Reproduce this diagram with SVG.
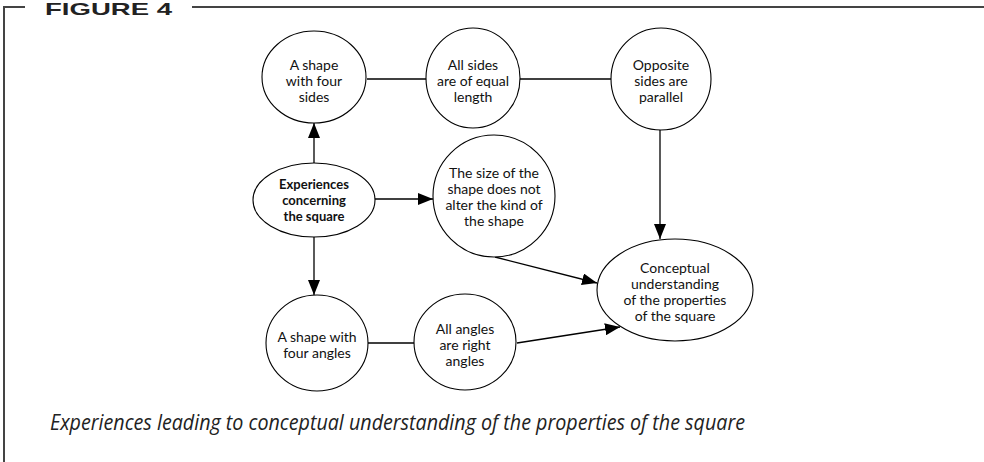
<svg xmlns="http://www.w3.org/2000/svg" width="984" height="462" viewBox="0 0 984 462">
<style>
.frame{stroke:#444;stroke-width:2;fill:none}
.node ellipse{fill:#fff;stroke:#000;stroke-width:1.1}
.node text{font-family:Lato,"Open Sans","Liberation Sans",sans-serif;font-size:14px;fill:#111;text-anchor:middle}
.node text.b{font-weight:bold;font-size:13px}
.conn line{stroke:#000;stroke-width:1.3}
.title{font-family:"Liberation Sans",sans-serif;font-weight:bold;font-size:17px;fill:#222}
.cap{font-family:"Open Sans","Liberation Sans",sans-serif;font-style:italic;font-size:22px;fill:#222}
</style>
<defs>
<marker id="ah" viewBox="0 0 15 12" refX="15" refY="6" markerWidth="15" markerHeight="12" markerUnits="userSpaceOnUse" orient="auto">
<path d="M0,0 L15,6 L0,12 Z" fill="#000"/>
</marker>
</defs>
<g id="frame">
<path class="frame" d="M4,462 V7 H25 M192,7 H984"/>
<text class="title" x="45" y="15" textLength="127" lengthAdjust="spacingAndGlyphs">FIGURE 4</text>
</g>
<g class="conn" id="connectors">
<line x1="367" y1="79" x2="427" y2="79"/>
<line x1="520" y1="79" x2="611" y2="79"/>
<line x1="368" y1="343" x2="414" y2="343"/>
<line x1="314" y1="163" x2="314" y2="123" marker-end="url(#ah)"/>
<line x1="375" y1="199" x2="433" y2="199" marker-end="url(#ah)"/>
<line x1="314" y1="236" x2="314" y2="295" marker-end="url(#ah)"/>
<line x1="660" y1="130" x2="660" y2="239" marker-end="url(#ah)"/>
<line x1="495" y1="257" x2="597" y2="283" marker-end="url(#ah)"/>
<line x1="517" y1="343" x2="620" y2="327" marker-end="url(#ah)"/>
</g>
<g class="node" id="n-four-sides">
<ellipse cx="314" cy="77" rx="52" ry="46"/>
<text x="314" y="70">A shape</text><text x="314" y="86">with four</text><text x="314" y="102">sides</text>
</g>
<g class="node" id="n-equal-length">
<ellipse cx="473" cy="78" rx="47" ry="50"/>
<text x="473" y="70">All sides</text><text x="473" y="86">are of equal</text><text x="473" y="102">length</text>
</g>
<g class="node" id="n-parallel">
<ellipse cx="661" cy="79" rx="50" ry="51"/>
<text x="661" y="70">Opposite</text><text x="661" y="86">sides are</text><text x="661" y="102">parallel</text>
</g>
<g class="node" id="n-experiences">
<ellipse cx="314" cy="200" rx="61" ry="37"/>
<text class="b" x="314" y="189">Experiences</text><text class="b" x="314" y="205">concerning</text><text class="b" x="314" y="221">the square</text>
</g>
<g class="node" id="n-size">
<ellipse cx="494" cy="196" rx="61" ry="61"/>
<text x="494" y="178">The size of the</text><text x="494" y="194">shape does not</text><text x="494" y="210">alter the kind of</text><text x="494" y="226">the shape</text>
</g>
<g class="node" id="n-four-angles">
<ellipse cx="317" cy="343" rx="51" ry="48"/>
<text x="317" y="342">A shape with</text><text x="317" y="358">four angles</text>
</g>
<g class="node" id="n-right-angles">
<ellipse cx="465" cy="342" rx="51" ry="48"/>
<text x="465" y="334">All angles</text><text x="465" y="350">are right</text><text x="465" y="366">angles</text>
</g>
<g class="node" id="n-conceptual">
<ellipse cx="675" cy="290" rx="78" ry="51"/>
<text x="675" y="273">Conceptual</text><text x="675" y="289">understanding</text><text x="675" y="305">of the properties</text><text x="675" y="321">of the square</text>
</g>
<text class="cap" x="50" y="430" textLength="695" lengthAdjust="spacingAndGlyphs">Experiences leading to conceptual understanding of the properties of the square</text>
</svg>
